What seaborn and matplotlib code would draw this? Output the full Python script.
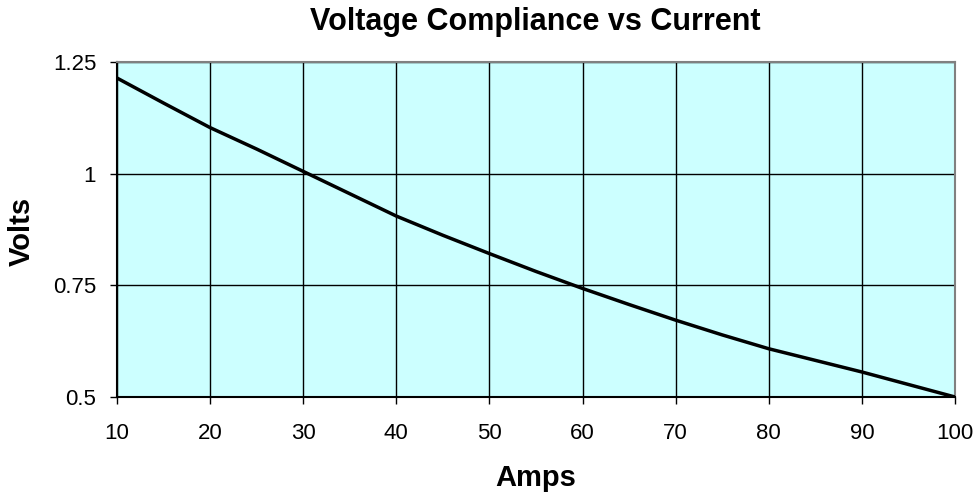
import matplotlib
matplotlib.use("Agg")
import matplotlib.pyplot as plt
import seaborn as sns
import pandas as pd

amps = [10, 15, 20, 25, 30, 35, 40, 45, 50, 55, 60, 65, 70, 75, 80, 85, 90, 95, 100]
volts = [1.214, 1.158, 1.103, 1.055, 1.005, 0.955, 0.905, 0.862, 0.821, 0.781,
         0.743, 0.707, 0.672, 0.639, 0.608, 0.582, 0.556, 0.528, 0.500]
x_ticks = [10, 20, 30, 40, 50, 60, 70, 80, 90, 100]
y_ticks = [0.5, 0.75, 1.0, 1.25]
y_labels = ["0.5", "0.75", "1", "1.25"]

sns.set_theme(style="white")
plt.rcParams['font.family'] = ['Liberation Sans', 'DejaVu Sans']
plt.rcParams['text.color'] = 'black'
plt.rcParams['axes.labelcolor'] = 'black'

df = pd.DataFrame({"Amps": amps, "Volts": volts})

fig = plt.figure(figsize=(9.77, 4.97), dpi=100)
ax = fig.add_axes([0.1198, 0.2012, 0.8577, 0.6741])
ax.set_facecolor("#CCFFFF")
sns.lineplot(data=df, x="Amps", y="Volts", ax=ax, color="black", linewidth=2.5, zorder=3)

ax.set_xlim(10, 100)
ax.set_ylim(0.5, 1.25)
ax.set_xticks(x_ticks)
ax.set_yticks(y_ticks)
ax.set_yticklabels(y_labels)
ax.grid(True, color="black", linewidth=1.0, zorder=1)
ax.set_axisbelow(True)
ax.tick_params(axis="both", which="both", direction="out", length=5, width=1,
               color="black", labelsize=16, labelcolor="black",
               bottom=True, left=True)
ax.tick_params(axis="x", pad=14)
ax.tick_params(axis="y", pad=10)
for side in ["top", "right"]:
    ax.spines[side].set_color("#808080")
    ax.spines[side].set_linewidth(1.5)
for side in ["left", "bottom"]:
    ax.spines[side].set_color("black")
    ax.spines[side].set_linewidth(1.5)

ax.set_xlabel("")
ax.set_ylabel("")
fig.text(0.5488, 0.022, "Amps", fontsize=21, fontweight="bold", ha="center", va="baseline")
fig.text(0.0226, 0.535, "Volts", fontsize=21, fontweight="bold", rotation=90,
         ha="center", va="center")
fig.text(0.548, 0.9396, "Voltage Compliance vs Current", fontsize=22, fontweight="bold",
         ha="center", va="baseline")

fig.savefig("out.png", dpi=100)
